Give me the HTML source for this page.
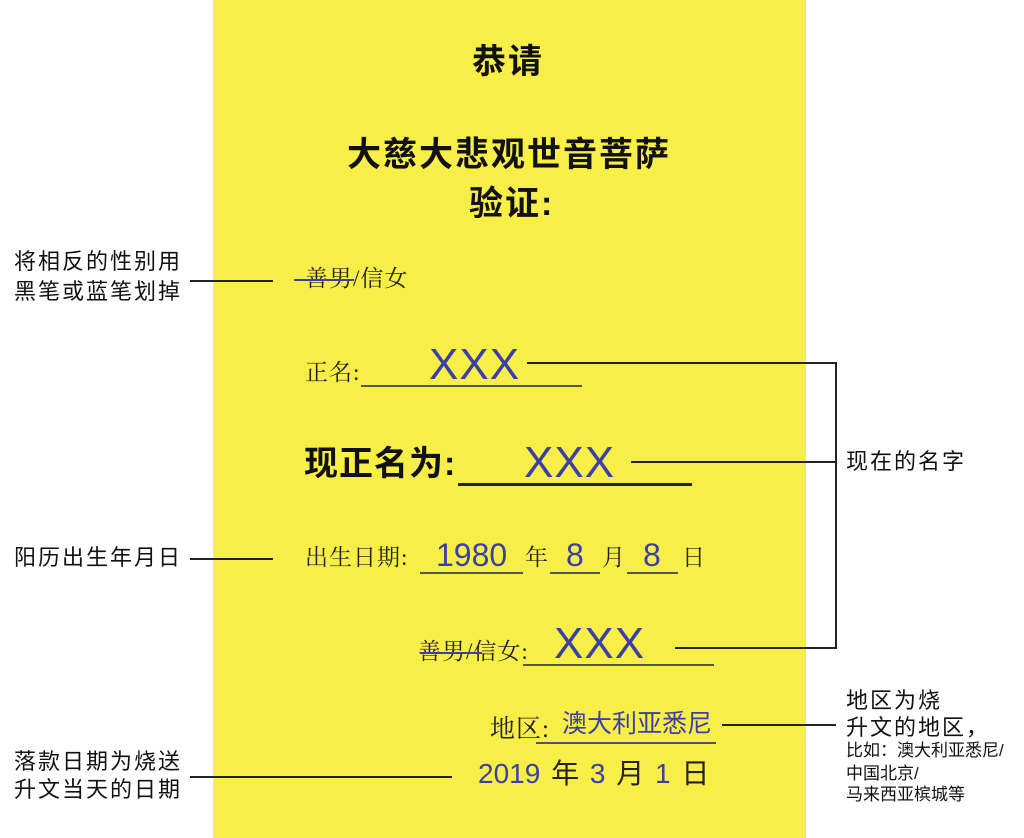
<!DOCTYPE html>
<html><head><meta charset="utf-8"><style>
body{margin:0;width:1024px;height:838px;position:relative;background:#fff;overflow:hidden;font-family:"Liberation Sans","Noto Sans CJK SC",sans-serif;color:#111}
.y{position:absolute;left:213px;top:0;width:593px;height:838px;background:#f8ee48}
.t{position:absolute;line-height:1;white-space:nowrap}
.s{font-family:"Liberation Serif","Noto Serif CJK SC",serif;font-size:23px;color:#222;letter-spacing:1px}
.b{color:#3b3fa6}
.h{font-weight:bold;font-size:34px;letter-spacing:2px}
.l{position:absolute;height:1.5px;background:#222}
.u{position:absolute;height:1.5px;background:#555}
.v{position:absolute;width:1.5px;background:#222}
.lab{font-size:22px;letter-spacing:2px}
</style></head><body>
<div class="y"></div>
<div class="t h" style="left:472px;top:45px">恭请</div>
<div class="t h" style="left:347px;top:138px">大慈大悲观世音菩萨</div>
<div class="t h" style="left:469px;top:187px">验证:</div>

<div class="t s" style="left:305px;top:267px">善男/信女</div>
<div style="position:absolute;left:294px;top:279px;width:60px;height:2px;background:#3b3fa6"></div>

<div class="t s" style="left:305px;top:361px">正名:</div>
<div class="u" style="left:361px;top:385px;width:221px"></div>
<div class="t b" style="left:429px;top:343px;font-size:44px;letter-spacing:1px">XXX</div>

<div class="t" style="left:304px;top:447px;font-size:34px;font-weight:bold;letter-spacing:1px">现正名为:</div>
<div class="l" style="left:458px;top:483px;width:234px;height:2.5px"></div>
<div class="t b" style="left:524px;top:441px;font-size:44px;letter-spacing:1px">XXX</div>

<div class="t s" style="left:305px;top:546px">出生日期:</div>
<div class="t b" style="left:436px;top:539px;font-size:32px">1980</div>
<div class="u" style="left:420px;top:572px;width:103px"></div>
<div class="t s" style="left:525px;top:546px">年</div>
<div class="t b" style="left:566px;top:539px;font-size:32px">8</div>
<div class="u" style="left:550px;top:572px;width:50px"></div>
<div class="t s" style="left:602px;top:546px">月</div>
<div class="t b" style="left:643px;top:539px;font-size:32px">8</div>
<div class="u" style="left:627px;top:572px;width:51px"></div>
<div class="t s" style="left:682px;top:546px">日</div>

<div class="t s" style="left:418px;top:640px">善男/信女:</div>
<div style="position:absolute;left:420px;top:652px;width:62px;height:2px;background:#3b3fa6"></div>
<div class="t b" style="left:554px;top:622px;font-size:44px;letter-spacing:1px">XXX</div>
<div class="u" style="left:523px;top:664px;width:191px"></div>

<div class="t s" style="left:490px;top:717px;font-size:25px">地区:</div>
<div class="t b" style="left:562px;top:712px;font-size:25px">澳大利亚悉尼</div>
<div class="u" style="left:536px;top:742px;width:180px"></div>

<div class="t" style="left:478px;top:760px;font-size:28px;color:#222;word-spacing:3px"><span class="b">2019</span> 年 <span class="b">3</span> 月 <span class="b">1</span> 日</div>

<div class="t lab" style="left:14px;top:251px">将相反的性别用</div>
<div class="t lab" style="left:14px;top:281px">黑笔或蓝笔划掉</div>
<div class="l" style="left:190px;top:280px;width:83px"></div>
<div class="t lab" style="left:14px;top:547px">阳历出生年月日</div>
<div class="l" style="left:190px;top:558px;width:83px"></div>
<div class="t lab" style="left:14px;top:751px">落款日期为烧送</div>
<div class="t lab" style="left:14px;top:779px">升文当天的日期</div>
<div class="l" style="left:190px;top:776px;width:262px"></div>

<div class="l" style="left:527px;top:362px;width:310px"></div>
<div class="v" style="left:835px;top:362px;height:287px"></div>
<div class="l" style="left:631px;top:461px;width:205px"></div>
<div class="l" style="left:675px;top:647px;width:161px"></div>
<div class="t lab" style="left:846px;top:451px">现在的名字</div>

<div class="l" style="left:722px;top:724px;width:114px"></div>
<div class="t lab" style="left:846px;top:690px">地区为烧</div>
<div class="t lab" style="left:846px;top:717px">升文的地区，</div>
<div class="t" style="left:846px;top:742px;font-size:17px">比如：澳大利亚悉尼/</div>
<div class="t" style="left:846px;top:765px;font-size:17px">中国北京/</div>
<div class="t" style="left:846px;top:786px;font-size:17px">马来西亚槟城等</div>
</body></html>
